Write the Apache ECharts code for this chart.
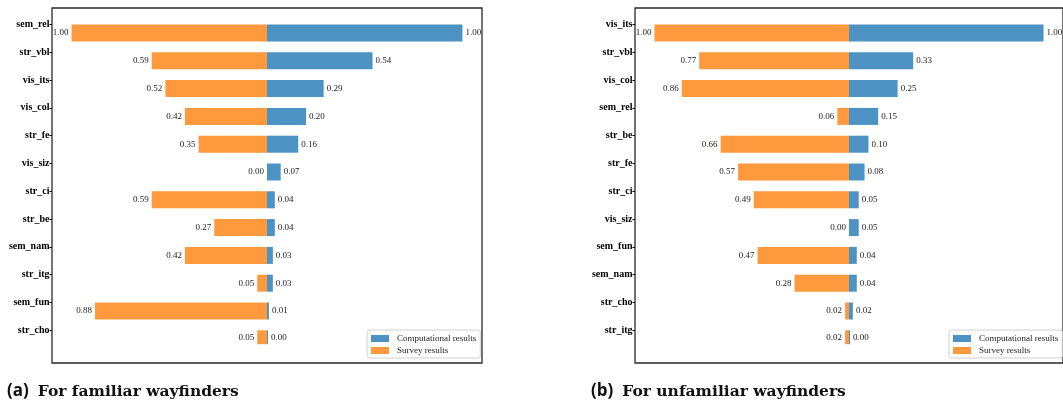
<!DOCTYPE html>
<html>
<head>
<meta charset="utf-8">
<script src="https://cdn.jsdelivr.net/npm/echarts@6/dist/echarts.min.js"></script>
<style>
  html, body { margin: 0; padding: 0; background: #fff; }
  #chart { width: 1063px; height: 407px; }
</style>
</head>
<body>
<div id="chart"></div>
<script>
// (a) familiar wayfinders
var catsA = ['sem_rel', 'str_vbl', 'vis_its', 'vis_col', 'str_fe', 'vis_siz', 'str_ci', 'str_be', 'sem_nam', 'str_itg', 'sem_fun', 'str_cho'];
var compA = [1.00, 0.54, 0.29, 0.20, 0.16, 0.07, 0.04, 0.04, 0.03, 0.03, 0.01, 0.00];
var survA = [1.00, 0.59, 0.52, 0.42, 0.35, 0.00, 0.59, 0.27, 0.42, 0.05, 0.88, 0.05];

// (b) unfamiliar wayfinders
var catsB = ['vis_its', 'str_vbl', 'vis_col', 'sem_rel', 'str_be', 'str_fe', 'str_ci', 'vis_siz', 'sem_fun', 'sem_nam', 'str_cho', 'str_itg'];
var compB = [1.00, 0.33, 0.25, 0.15, 0.10, 0.08, 0.05, 0.05, 0.04, 0.04, 0.02, 0.00];
var survB = [1.00, 0.77, 0.86, 0.06, 0.66, 0.57, 0.49, 0.00, 0.47, 0.28, 0.02, 0.02];

var BLUE = '#4c92c3';
var ORANGE = '#ff993e';
var SERIF = '"Liberation Serif", "Times New Roman", serif';

var chart = echarts.init(document.getElementById('chart'));

function fmt(p) { return Math.abs(p.value).toFixed(2); }

// frame grid + plot grid for one panel
function panel(left, cats, comp, surv, idx) {
    var f = idx * 2, g = idx * 2 + 1;
    var grids = [
        {left: left, top: 8, width: 430, height: 355, show: true, borderColor: '#2a2a2a', borderWidth: 1.3, backgroundColor: 'transparent'},
        {left: left, top: 10.6, width: 430, height: 333.6}
    ];
    var xAxes = [
        {gridIndex: f, type: 'value', show: false},
        {gridIndex: g, type: 'value', min: -1.1, max: 1.1, show: false}
    ];
    var yAxes = [
        {gridIndex: f, type: 'value', show: false},
        {
            gridIndex: g, type: 'category', inverse: true, data: cats,
            axisLine: {show: false, onZero: false},
            axisTick: {show: true, alignWithLabel: true, length: 2.5, lineStyle: {color: '#000'}},
            axisLabel: {margin: 2.5, fontFamily: SERIF, fontWeight: 'bold', fontSize: 10, color: '#000'}
        }
    ];
    var series = [
        // empty slot so the bars hang below their tick
        {type: 'bar', xAxisIndex: g, yAxisIndex: g, stack: 'pad' + idx, barWidth: 17, barGap: 0,
            data: cats.map(function () { return 0; }), itemStyle: {color: 'transparent'}, silent: true},
        {name: 'Survey results', type: 'bar', xAxisIndex: g, yAxisIndex: g, stack: 'row' + idx, stackStrategy: 'positive',
            barWidth: 17, barGap: 0, barMinHeight: 1,
            data: surv.map(function (v) { return -v; }),
            itemStyle: {color: ORANGE},
            label: {show: true, position: 'left', distance: 3, formatter: fmt, fontFamily: SERIF, fontSize: 9, color: '#222'}},
        {name: 'Computational results', type: 'bar', xAxisIndex: g, yAxisIndex: g, stack: 'row' + idx, stackStrategy: 'positive',
            barWidth: 17, barGap: 0, barMinHeight: 1,
            data: comp,
            itemStyle: {color: BLUE},
            label: {show: true, position: 'right', distance: 3, formatter: fmt, fontFamily: SERIF, fontSize: 9, color: '#222'}}
    ];
    return {grids: grids, xAxes: xAxes, yAxes: yAxes, series: series};
}

var pa = panel(52, catsA, compA, survA, 0);
var pb = panel(635, catsB, compB, survB, 1);

function legendAt(left) {
    return {
        orient: 'vertical', left: left, top: 330,
        data: ['Computational results', 'Survey results'],
        itemWidth: 18, itemHeight: 7, itemGap: 3,
        padding: [4, 4, 3, 4],
        backgroundColor: '#fff', borderColor: '#d0d0d0', borderWidth: 1, borderRadius: 2,
        textStyle: {fontFamily: SERIF, fontSize: 9, color: '#222', padding: [0, 0, 0, 3]},
        icon: 'rect'
    };
}

function caption(left, letter, text) {
    return {
        left: left, top: 383,
        text: '{b|' + letter + '}{t|' + text + '}',
        textStyle: {
            rich: {
                b: {fontFamily: '"Open Sans", sans-serif', fontWeight: 'bold', fontSize: 17, color: '#111', padding: [0, 9, 0, 0]},
                t: {fontFamily: '"DejaVu Serif", serif', fontSize: 15.5, color: '#111'}
            }
        },
        padding: 0
    };
}

option = {
    animation: false,
    backgroundColor: '#fff',
    title: [caption(7, '(a)', 'For familiar wayfinders'), caption(591, '(b)', 'For unfamiliar wayfinders')],
    legend: [legendAt(367), legendAt(949)],
    grid: pa.grids.concat(pb.grids),
    xAxis: pa.xAxes.concat(pb.xAxes),
    yAxis: pa.yAxes.concat(pb.yAxes),
    series: pa.series.concat(pb.series)
};

chart.setOption(option);
</script>
</body>
</html>
